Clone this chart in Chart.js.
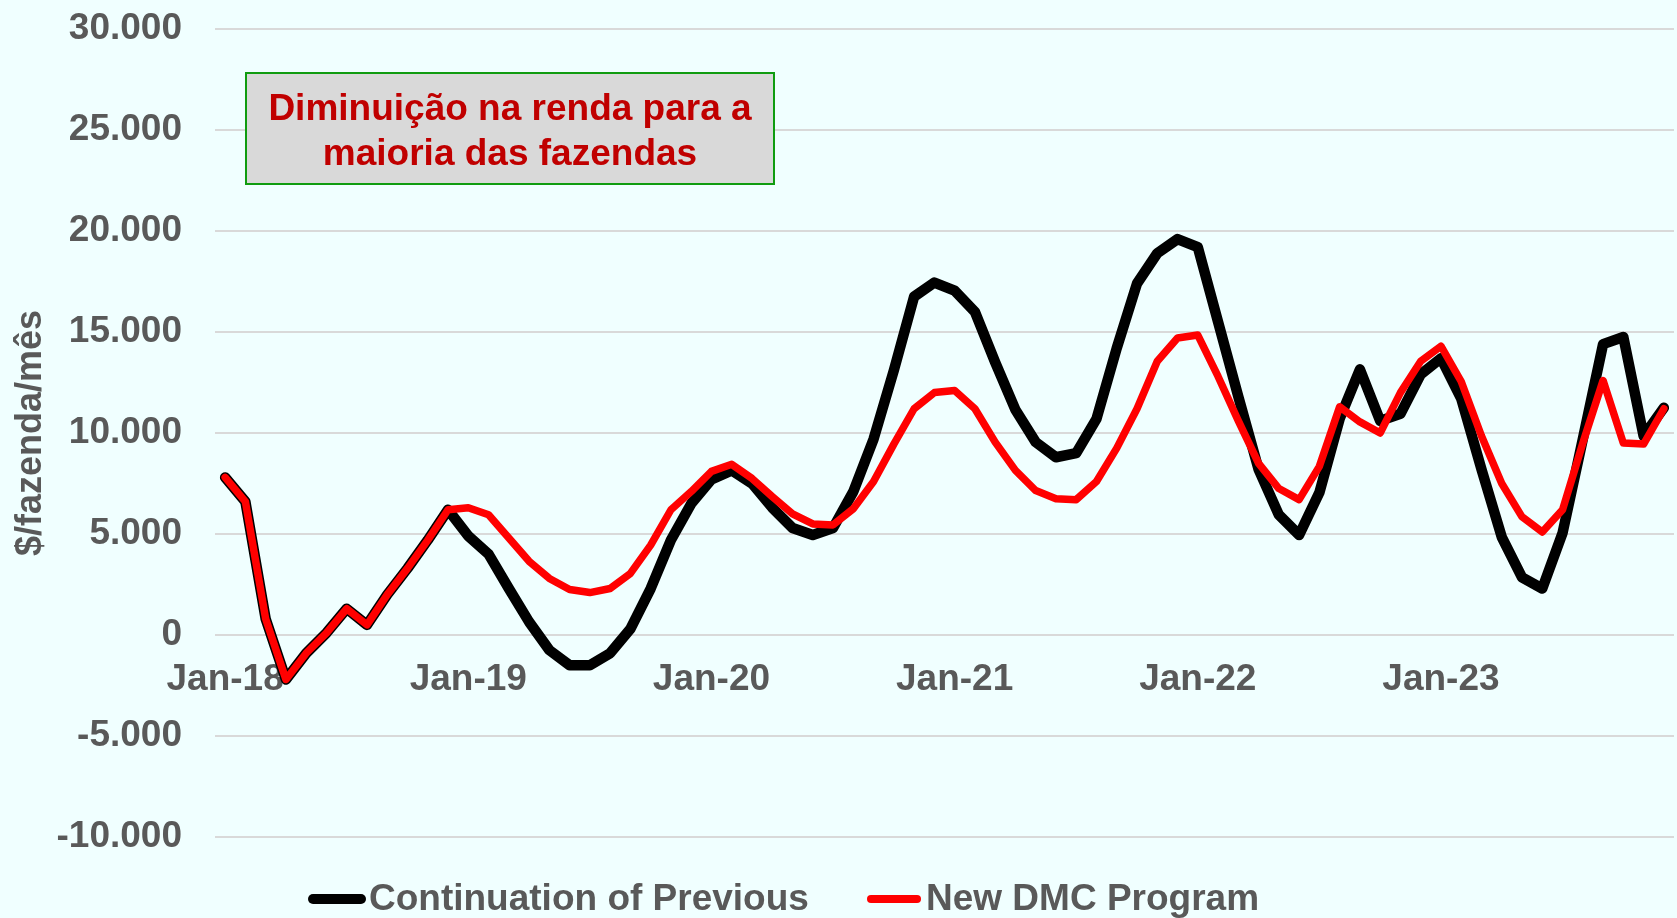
<!DOCTYPE html>
<html>
<head>
<meta charset="utf-8">
<title>DMC</title>
<script src="https://cdn.jsdelivr.net/npm/chart.js@4.4.1/dist/chart.umd.min.js"></script>
<style>
  html, body { margin: 0; padding: 0; background: #f0ffff; }
  #wrap { width: 1677px; height: 918px; position: relative; }
</style>
</head>
<body>
<div id="wrap"><canvas id="chart"></canvas></div>
<script>
// months Jan-18 .. Dec-23
const monthNames = ['Jan', 'Feb', 'Mar', 'Apr', 'May', 'Jun', 'Jul', 'Aug', 'Sep', 'Oct', 'Nov', 'Dec'];
const years = ['18', '19', '20', '21', '22', '23'];
const tickLabels = ['Jan-18', 'Jan-19', 'Jan-20', 'Jan-21', 'Jan-22', 'Jan-23'];

const months = [];
years.forEach(y => monthNames.forEach(m => months.push(m + '-' + y)));

const previous = [
    7800, 6600, 800, -2200, -900, 100, 1300, 500, 2000, 3300, 4700, 6200,
    4900, 4000, 2300, 650, -750, -1500, -1500, -900, 300, 2300, 4700, 6500,
    7700, 8150, 7500, 6300, 5300, 4950, 5300, 7100, 9700, 13100, 16750, 17450,
    17050, 16000, 13500, 11150, 9550, 8800, 9000, 10700, 14200, 17400, 18900, 19600,
    19200, 15500, 11800, 8200, 5950, 4950, 7050, 10700, 13150, 10600, 10950, 12900,
    13700, 11700, 8200, 4850, 2850, 2300, 5050, 9700, 14400, 14750, 9850, 11250
];

const newDmc = [
    7800, 6600, 800, -2200, -900, 100, 1300, 500, 2000, 3300, 4700, 6200,
    6300, 5950, 4800, 3650, 2800, 2250, 2100, 2300, 3050, 4450, 6200, 7100,
    8100, 8450, 7750, 6850, 6000, 5500, 5450, 6250, 7600, 9450, 11200, 12000,
    12100, 11200, 9550, 8150, 7150, 6750, 6700, 7600, 9250, 11200, 13550, 14700,
    14850, 12800, 10600, 8500, 7250, 6700, 8350, 11300, 10550, 10000, 12000, 13550,
    14300, 12550, 9850, 7500, 5850, 5100, 6200, 9500, 12600, 9500, 9450, 11200
];

const seriesNames = ['Continuation of Previous', 'New DMC Program'];
const seriesColors = ['#000000', '#ff0000'];
const noteLines = ['Diminuição na renda para a', 'maioria das fazendas'];

const FONT = '"Liberation Sans", Arial, sans-serif';
const GRAY = '#595959';

function fmt(v) {
    const s = Math.abs(v).toString().replace(/\B(?=(\d{3})+(?!\d))/g, '.');
    return v < 0 ? '-' + s : s;
}

// keep the label overflow from pushing the plot area around
function noPadding(scale) {
    scale.paddingTop = 0;
    scale.paddingBottom = 0;
    scale.paddingLeft = 0;
    scale.paddingRight = 0;
}

// text box in the upper left
const noteBox = {
    id: 'noteBox',
    afterDraw(chart) {
        const ctx = chart.ctx;
        ctx.save();
        ctx.fillStyle = '#d9d9d9';
        ctx.fillRect(246, 73, 528, 111);
        ctx.strokeStyle = '#109c10';
        ctx.lineWidth = 2;
        ctx.strokeRect(246, 73, 528, 111);
        ctx.fillStyle = '#c00000';
        ctx.font = 'bold 37px ' + FONT;
        ctx.textAlign = 'center';
        ctx.textBaseline = 'alphabetic';
        ctx.fillText(noteLines[0], 510, 120);
        ctx.fillText(noteLines[1], 510, 165);
        ctx.restore();
    }
};

// legend drawn like the excel one (line touching the text)
const lineLegend = {
    id: 'lineLegend',
    afterDraw(chart) {
        const ctx = chart.ctx;
        const items = [
            { x1: 313, x2: 361, tx: 369, w: 10 },
            { x1: 871, x2: 917, tx: 926, w: 8 }
        ];
        ctx.save();
        ctx.font = 'bold 37px ' + FONT;
        ctx.textBaseline = 'alphabetic';
        items.forEach((it, i) => {
            ctx.strokeStyle = seriesColors[i];
            ctx.lineWidth = it.w;
            ctx.lineCap = 'round';
            ctx.beginPath();
            ctx.moveTo(it.x1, 899);
            ctx.lineTo(it.x2, 899);
            ctx.stroke();
            ctx.fillStyle = GRAY;
            ctx.fillText(seriesNames[i], it.tx, 910);
        });
        ctx.restore();
    }
};

const ctx = document.getElementById('chart').getContext('2d');
const chart = new Chart(ctx, {
    type: 'line',
    data: {
        labels: months,
        datasets: [{
            label: seriesNames[0],
            data: previous,
            borderColor: seriesColors[0],
            borderWidth: 10.5,
            borderCapStyle: 'round',
            borderJoinStyle: 'round',
            pointRadius: 0,
            tension: 0,
            order: 2
        }, {
            label: seriesNames[1],
            data: newDmc,
            borderColor: seriesColors[1],
            borderWidth: 7.5,
            borderCapStyle: 'round',
            borderJoinStyle: 'round',
            pointRadius: 0,
            tension: 0,
            order: 1
        }]
    },
    options: {
        responsive: true,
        maintainAspectRatio: false,
        animation: false,
        layout: {
            padding: { left: 0, right: 3, top: 29, bottom: 81 }
        },
        plugins: {
            legend: { display: false },
            tooltip: { enabled: false }
        },
        scales: {
            x: {
                position: { y: 0 },
                offset: true,
                afterFit: noPadding,
                grid: { display: false, drawTicks: false },
                border: { display: false },
                ticks: {
                    autoSkip: false,
                    maxRotation: 0,
                    padding: 23,
                    color: GRAY,
                    font: { family: FONT, size: 37, weight: 'bold' },
                    callback: function(value, index) {
                        const l = months[index];
                        return tickLabels.includes(l) ? l : '';
                    }
                }
            },
            y: {
                min: -10000,
                max: 30000,
                afterFit: function(scale) {
                    scale.width = 215;
                    noPadding(scale);
                },
                grid: { color: '#d9d9d9', lineWidth: 2, drawTicks: false },
                border: { display: false },
                ticks: {
                    stepSize: 5000,
                    padding: 33,
                    color: GRAY,
                    font: { family: FONT, size: 37, weight: 'bold' },
                    callback: v => fmt(v)
                },
                title: {
                    display: true,
                    text: '$/fazenda/mês',
                    color: GRAY,
                    padding: { top: 9, bottom: 0 },
                    font: { family: FONT, size: 36, weight: 'bold' }
                }
            }
        }
    },
    plugins: [noteBox, lineLegend]
});
</script>
</body>
</html>
